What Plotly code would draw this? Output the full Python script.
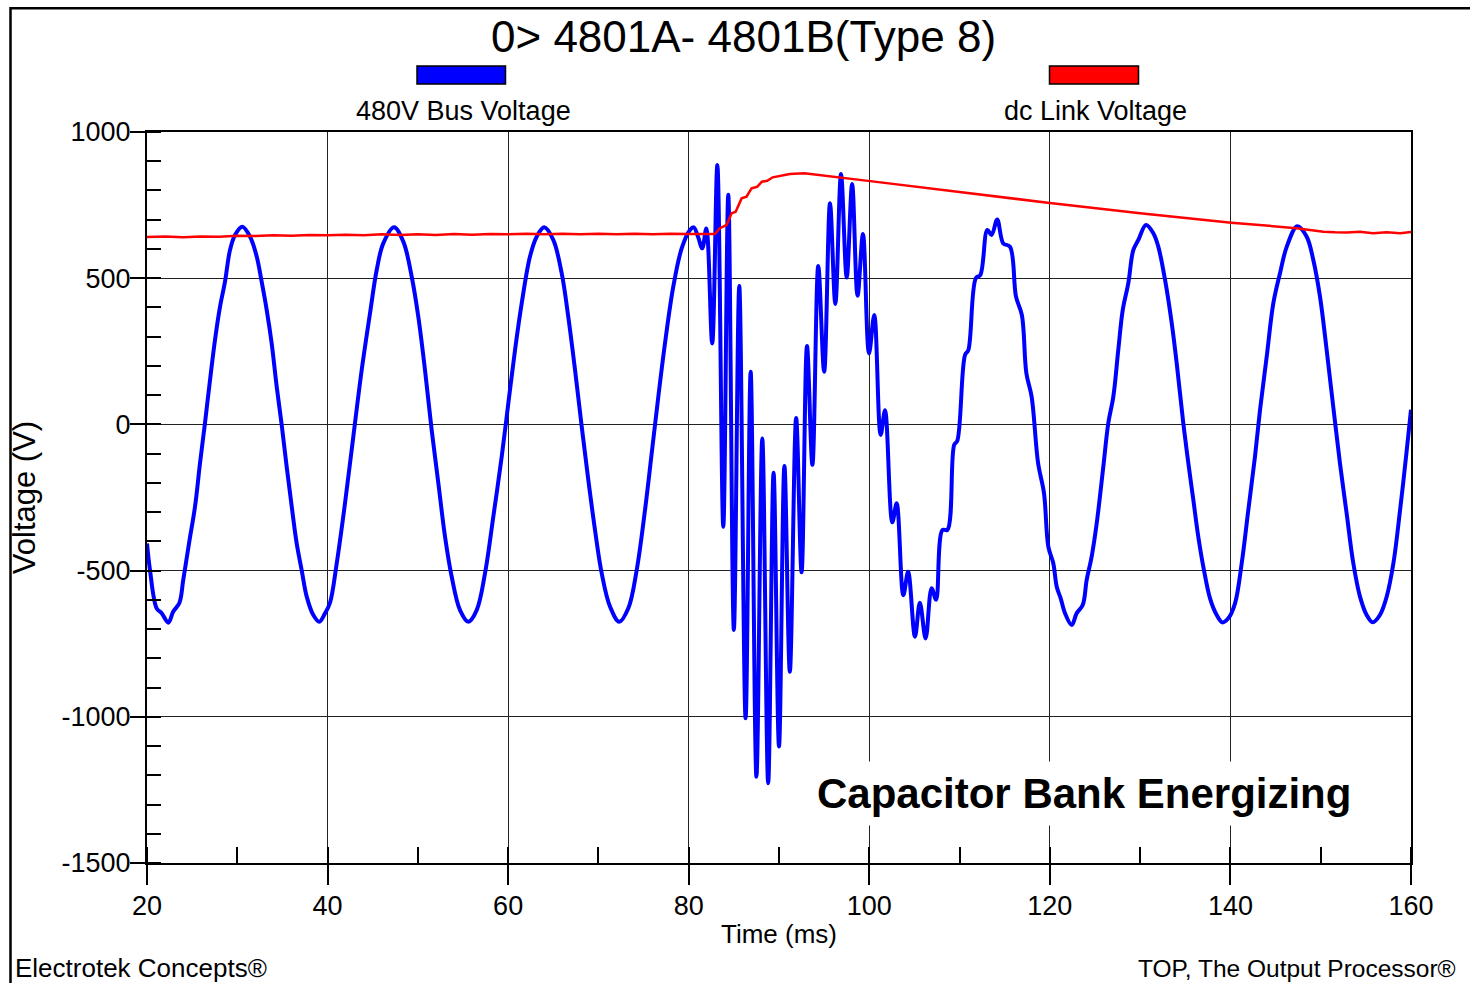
import plotly.graph_objects as go

# 480 V bus voltage (ms, V)
t_bus = [
    20.0, 20.33, 21.07, 21.63, 22.36, 22.91, 23.58, 24.02, 24.69, 25.32,
    25.87, 26.42, 26.98, 27.53, 28.09, 28.64, 29.19, 29.75, 30.56, 31.41,
    32.15, 32.70, 33.26, 33.81, 34.37, 34.92, 35.47, 36.03, 36.58, 37.13,
    37.69, 38.42, 39.08, 39.72, 40.27, 41.01, 41.93, 42.85, 43.78, 44.70,
    45.44, 46.17, 47.36, 48.39, 49.32, 50.05, 50.79, 51.53, 52.27, 53.01,
    53.75, 54.67, 55.59, 56.52, 57.44, 58.36, 59.29, 60.02, 60.76, 61.50,
    62.42, 63.16, 64.00, 65.00, 65.93, 66.66, 67.41, 68.15, 68.88, 69.62,
    70.36, 71.28, 72.31, 73.31, 74.24, 75.16, 75.90, 76.63, 77.37, 78.29,
    79.22, 80.14, 80.56, 81.05, 81.50, 81.95, 82.60, 83.17, 83.83, 84.38,
    85.00, 85.60, 86.30, 86.86, 87.50, 88.15, 88.80, 89.40, 90.00, 90.60,
    91.20, 91.90, 92.50, 93.10, 93.70, 94.35, 95.00, 95.65, 96.24, 96.87,
    97.50, 98.10, 98.70, 99.30, 99.97, 100.55, 101.26, 101.74, 102.55, 103.03,
    103.77, 104.30, 105.06, 105.60, 106.24, 106.90, 107.40, 108.10, 108.65, 109.40,
    109.75, 110.60, 110.97, 111.80, 112.30, 113.07, 113.55, 114.17, 114.84, 115.58,
    116.25, 116.90, 117.40, 117.98, 118.70, 119.35, 119.83, 120.38, 120.76, 121.20,
    121.68, 122.42, 122.97, 123.64, 124.08, 124.63, 125.19, 125.92, 126.47, 127.03,
    127.58, 128.07, 128.69, 129.24, 129.80, 130.65, 131.46, 132.01, 132.76, 133.50,
    134.05, 134.78, 135.34, 135.89, 136.44, 137.00, 137.74, 138.48, 139.10, 139.77,
    140.51, 141.25, 141.98, 142.72, 143.28, 144.02, 144.75, 145.49, 146.24, 147.41,
    148.45, 149.18, 149.92, 150.66, 151.39, 152.13, 152.87, 153.61, 154.35, 155.09,
    155.75, 156.56, 157.31, 158.05, 158.79, 159.53, 160.0,
]
v_bus = [
    -407, -498, -629, -646, -678, -640, -611, -531, -400, -281,
    -133, 4, 152, 289, 403, 488, 596, 648, 676, 642,
    574, 488, 391, 277, 128, -2, -145, -281, -407, -498,
    -589, -652, -675, -646, -610, -476, -270, -42, 186, 380,
    528, 619, 674, 625, 505, 368, 186, -19, -201, -384,
    -521, -635, -675, -635, -509, -315, -110, 72, 254, 414,
    574, 642, 674, 631, 517, 368, 186, -8, -190, -361,
    -509, -623, -675, -629, -498, -293, -99, 94, 277, 471,
    602, 665, 674, 640, 602, 670, 277, 887, -350, 785,
    -703, 473, -1005, 180, -1205, -48, -1227, -165, -1102, -142,
    -846, 22, -506, 268, -138, 542, 180, 756, 412, 856,
    502, 822, 440, 651, 243, 374, -36, 48, -335, -270,
    -584, -504, -726, -610, -732, -560, -600, -361, -361, -70,
    -56, 237, 254, 500, 511, 665, 648, 701, 619, 608,
    437, 374, 175, 95, -133, -235, -418, -475, -555, -595,
    -646, -686, -646, -618, -532, -452, -338, -145, 4, 95,
    255, 391, 483, 596, 631, 682, 654, 608, 494, 346,
    209, 4, -133, -258, -384, -487, -595, -652, -677, -663,
    -612, -475, -293, -110, 50, 232, 414, 517, 608, 678,
    642, 562, 437, 254, 60, -133, -304, -475, -589, -652,
    -677, -652, -589, -475, -293, -88, 50,
]

# dc link voltage (ms, V)
t_dc = [
    20, 22, 24, 26, 28, 30, 32, 34, 36, 38,
    40, 42, 44, 46, 48, 50, 52, 54, 56, 58,
    60, 62, 64, 66, 68, 70, 72, 74, 76, 78,
    80, 82, 82.9, 83.45, 84.2, 84.75, 85.2, 85.86, 86.4, 86.96,
    87.6, 88.1, 88.7, 89.3, 90.1, 91.2, 92.8, 94.5, 100.1, 110,
    120, 130, 140.1, 147.3, 150.3, 151.6, 152.9, 154.35, 155.8, 157.3,
    158.8, 160,
]
v_dc = [
    641, 643, 640, 643, 642, 645, 644, 647, 645, 648,
    647, 649, 647, 650, 648, 650, 648, 651, 649, 651,
    650, 652, 650, 652, 650, 652, 650, 652, 650, 652,
    651, 651, 651, 671, 682, 722, 727, 773, 779, 807,
    813, 830, 833, 845, 850, 856, 859, 853, 832, 795,
    757, 722, 690, 671, 659, 657, 656, 659, 654, 657,
    654, 658,
]

x_tick_vals = [20, 40, 60, 80, 100, 120, 140, 160]
y_tick_vals = [-1500, -1000, -500, 0, 500, 1000]
y_tick_text = ["-1500", "-1000", "-500", "0", "500", "1000"]

series_names = ["480V Bus Voltage", "dc Link Voltage"]
series_colors = ["#0000FF", "#FF0000"]

FONT = "Liberation Sans, Arial, sans-serif"

# plot area in pixels, used to place decorations in paper coordinates
W, H = 1470, 983
L, R, T, B = 147, 1411, 132, 863


def px(x):
    return (x - L) / (R - L)


def py(y):
    return (B - y) / (B - T)


fig = go.Figure()
fig.add_trace(go.Scatter(
    x=t_bus, y=v_bus, mode="lines", name=series_names[0],
    line=dict(color=series_colors[0], width=4, shape="spline", smoothing=1.0),
    showlegend=False,
))
fig.add_trace(go.Scatter(
    x=t_dc, y=v_dc, mode="lines", name=series_names[1],
    line=dict(color=series_colors[1], width=2.5),
    showlegend=False,
))

axis_common = dict(
    showgrid=True, gridcolor="#222222", gridwidth=1,
    showline=True, linecolor="black", linewidth=2, mirror=True,
    zeroline=False, ticks="outside", tickcolor="black", tickwidth=1.5,
    tickfont=dict(family=FONT, size=27, color="black"),
)

fig.update_xaxes(
    range=[20, 160], tickvals=x_tick_vals, ticklen=20,
    ticklabelstandoff=-2,
    minor=dict(ticks="inside", ticklen=16, dtick=10, tick0=0,
               tickcolor="black", tickwidth=1.5, showgrid=False),
    title=dict(text="Time (ms)", font=dict(family=FONT, size=26, color="black"),
               standoff=4),
    **axis_common,
)
fig.update_yaxes(
    range=[-1500, 1000], tickvals=y_tick_vals, ticktext=y_tick_text, ticklen=15,
    ticklabelstandoff=-6,
    minor=dict(ticks="inside", ticklen=14, dtick=100, tick0=0,
               tickcolor="black", tickwidth=1.5, showgrid=False),
    title=dict(text="Voltage (V)", font=dict(family=FONT, size=31, color="black"),
               standoff=17),
    **axis_common,
)

shapes = [
    # outer frame
    dict(type="rect", xref="paper", yref="paper",
         x0=px(10.5), x1=px(1490), y0=py(995), y1=py(8.3),
         line=dict(color="black", width=2.5), fillcolor="rgba(0,0,0,0)"),
    # legend swatches
    dict(type="rect", xref="paper", yref="paper",
         x0=px(417), x1=px(505.5), y0=py(84), y1=py(66),
         line=dict(color="black", width=1.5), fillcolor=series_colors[0]),
    dict(type="rect", xref="paper", yref="paper",
         x0=px(1049.5), x1=px(1138.5), y0=py(84), y1=py(66),
         line=dict(color="black", width=1.5), fillcolor=series_colors[1]),
]

annotations = [
    dict(text="0&gt; 4801A- 4801B(Type 8)", x=px(743.5), y=py(36),
         xanchor="center", yanchor="middle",
         font=dict(family=FONT, size=44, color="black")),
    dict(text=series_names[0], x=px(463.7), y=py(111),
         xanchor="center", yanchor="middle",
         font=dict(family=FONT, size=27, color="black")),
    dict(text=series_names[1], x=px(1095.8), y=py(111),
         xanchor="center", yanchor="middle",
         font=dict(family=FONT, size=27, color="black")),
    dict(text="Electrotek Concepts®", x=px(13), y=py(968),
         xanchor="left", yanchor="middle",
         font=dict(family=FONT, size=26, color="black")),
    dict(text="TOP, The Output Processor®", x=px(1136), y=py(968),
         xanchor="left", yanchor="middle",
         font=dict(family=FONT, size=24.5, color="black")),
    dict(text="<b>Capacitor Bank Energizing</b>", x=px(1084), y=py(793),
         xanchor="center", yanchor="middle", bgcolor="white", borderpad=8,
         font=dict(family=FONT, size=42, color="black")),
]
for a in annotations:
    a.update(xref="paper", yref="paper", showarrow=False)

fig.update_layout(
    width=W, height=H,
    margin=dict(l=L, r=W - R, t=T, b=H - B, pad=0),
    plot_bgcolor="white", paper_bgcolor="white",
    shapes=shapes, annotations=annotations,
    font=dict(family=FONT, color="black"),
    showlegend=False,
)

fig.write_html("out.html")
